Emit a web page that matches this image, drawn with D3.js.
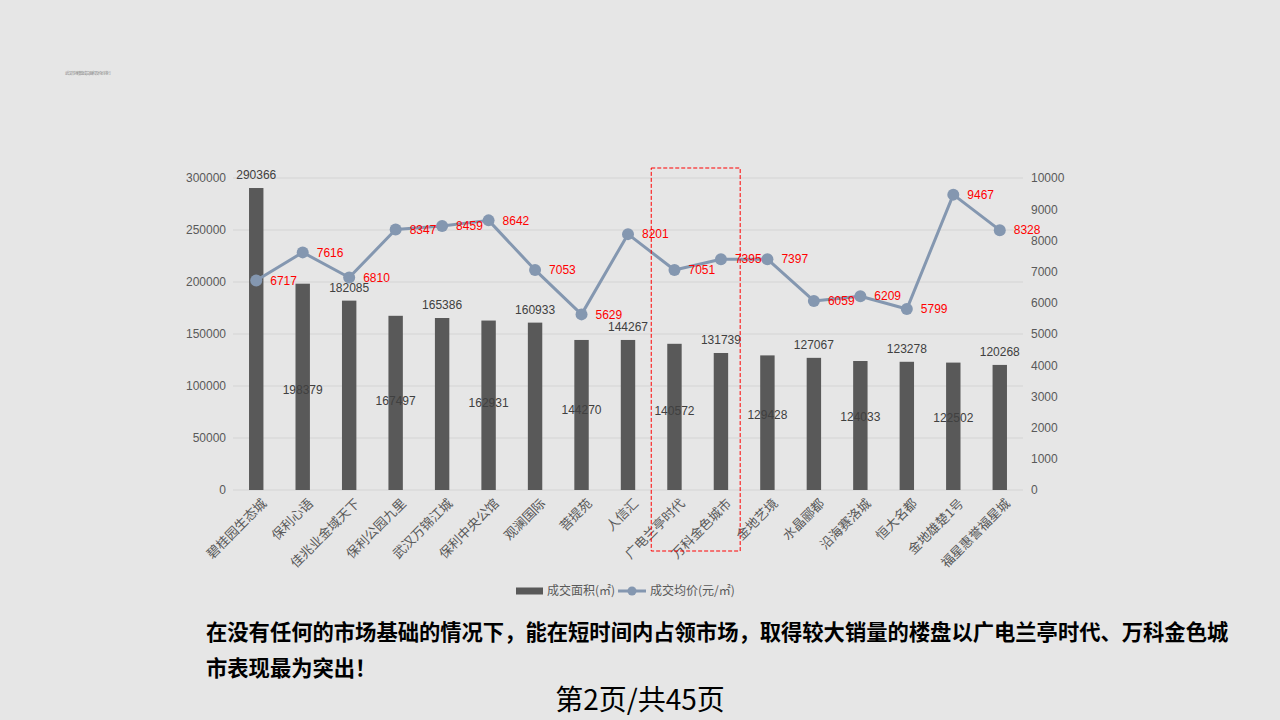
<!DOCTYPE html>
<html>
<head>
<meta charset="utf-8">
<script src="https://cdn.jsdelivr.net/npm/d3@7"></script>
<style>
  body { margin: 0; background: #e6e6e6; }
  svg { display: block; }
</style>
</head>
<body>
<div id="chart"></div>
<script>
const categories = ["碧桂园生态城", "保利心语", "佳兆业金域天下", "保利公园九里", "武汉万锦江城", "保利中央公馆",
  "观澜国际", "菩提苑", "人信汇", "广电兰亭时代", "万科金色城市", "金地艺境", "水晶郦都", "沿海赛洛城",
  "恒大名都", "金地雄楚1号", "福星惠誉福星城"];
const areaValues = [290366, 198379, 182085, 167497, 165386, 162931, 160933, 144270, 144267, 140572,
  131739, 129428, 127067, 124033, 123278, 122502, 120268];
const priceValues = [6717, 7616, 6810, 8347, 8459, 8642, 7053, 5629, 8201, 7051, 7395, 7397, 6059,
  6209, 5799, 9467, 8328];
const leftTicks = [0, 50000, 100000, 150000, 200000, 250000, 300000];
const rightTicks = [0, 1000, 2000, 3000, 4000, 5000, 6000, 7000, 8000, 9000, 10000];
const legendLabels = ["成交面积(㎡)", "成交均价(元/㎡)"];
const highlight = ["广电兰亭时代", "万科金色城市"];

const W = 1280, H = 720;
const plot = { left: 233, right: 1023, top: 178, bottom: 490 };
const font = "'Liberation Sans', Arial, 'Noto Sans CJK SC', sans-serif";
const cjk = "'Noto Sans CJK SC', sans-serif";
const barColor = "#595959", lineColor = "#8497b0", gray = "#595959";

const svg = d3.select("#chart").append("svg")
  .attr("width", W).attr("height", H)
  .style("font-family", font);

svg.append("rect").attr("width", W).attr("height", H).attr("fill", "#e6e6e6");

// tiny header text, top left
svg.append("text")
  .attr("x", 65).attr("y", 75)
  .attr("font-size", 4).attr("fill", "#8a8a8a")
  .attr("textLength", 46)
  .text("武汉市场楼盘成交面积及均价排行");

const x = d3.scaleBand()
  .domain(categories)
  .range([plot.left, plot.right])
  .paddingInner(0.69)
  .paddingOuter(0.345);

const yL = d3.scaleLinear().domain([0, 300000]).range([plot.bottom, plot.top]);
const yR = d3.scaleLinear().domain([0, 10000]).range([plot.bottom, plot.top]);

// grid
svg.append("g")
  .selectAll("line")
  .data(leftTicks)
  .join("line")
  .attr("x1", plot.left).attr("x2", plot.right)
  .attr("y1", d => yL(d)).attr("y2", d => yL(d))
  .attr("stroke", "#d4d4d4").attr("stroke-width", 1);

// left axis
const axL = svg.append("g")
  .attr("transform", `translate(${plot.left - 7},0)`)
  .call(d3.axisLeft(yL).tickValues(leftTicks).tickFormat(d3.format("d")).tickSize(0).tickPadding(0));
axL.select(".domain").remove();
axL.selectAll("text").attr("font-size", 12).attr("fill", gray).style("font-family", font);

// right axis
const axR = svg.append("g")
  .attr("transform", `translate(${plot.right + 8},0)`)
  .call(d3.axisRight(yR).tickValues(rightTicks).tickFormat(d3.format("d")).tickSize(0).tickPadding(0));
axR.select(".domain").remove();
axR.selectAll("text").attr("font-size", 12).attr("fill", gray).style("font-family", font);

// bars
const cx = d => x(d) + x.bandwidth() / 2;
svg.append("g")
  .selectAll("rect")
  .data(categories)
  .join("rect")
  .attr("x", d => x(d))
  .attr("width", x.bandwidth())
  .attr("y", (d, i) => yL(areaValues[i]))
  .attr("height", (d, i) => yL(0) - yL(areaValues[i]))
  .attr("fill", barColor);

// bar labels (excel style: alternate above / inside)
svg.append("g")
  .selectAll("text")
  .data(categories)
  .join("text")
  .attr("x", d => cx(d))
  .attr("y", (d, i) => i % 2 === 0
    ? yL(areaValues[i]) - 13
    : yL(areaValues[i] * 0.355) - 27)
  .attr("dy", "0.35em")
  .attr("text-anchor", "middle")
  .attr("font-size", 12)
  .attr("fill", "#404040")
  .text((d, i) => areaValues[i]);

// line
const line = d3.line()
  .x((d, i) => cx(categories[i]))
  .y(d => yR(d));

svg.append("path")
  .datum(priceValues)
  .attr("fill", "none")
  .attr("stroke", lineColor)
  .attr("stroke-width", 3)
  .attr("stroke-linejoin", "round")
  .attr("d", line);

svg.append("g")
  .selectAll("circle")
  .data(priceValues)
  .join("circle")
  .attr("cx", (d, i) => cx(categories[i]))
  .attr("cy", d => yR(d))
  .attr("r", 6)
  .attr("fill", lineColor);

svg.append("g")
  .selectAll("text")
  .data(priceValues)
  .join("text")
  .attr("x", (d, i) => cx(categories[i]) + 14)
  .attr("y", d => yR(d))
  .attr("dy", "0.35em")
  .attr("font-size", 12)
  .attr("fill", "#ff0000")
  .text(d => d);

// x labels
svg.append("g")
  .selectAll("text")
  .data(categories)
  .join("text")
  .attr("transform", d => `translate(${cx(d) + 8},${plot.bottom + 11}) rotate(-45)`)
  .attr("text-anchor", "end")
  .attr("dy", "0.35em")
  .attr("font-size", 13)
  .attr("fill", gray)
  .style("font-family", cjk)
  .text(d => d);

// highlight box
const hx0 = cx(highlight[0]) - x.step() / 2;
const hx1 = cx(highlight[1]) + x.step() / 2 - 4;
svg.append("rect")
  .attr("x", hx0).attr("y", plot.top - 10)
  .attr("width", hx1 - hx0).attr("height", 551 - (plot.top - 10))
  .attr("fill", "none")
  .attr("stroke", "#ff0000")
  .attr("stroke-width", 1)
  .attr("stroke-dasharray", "4,2");

// legend
const lg = svg.append("g").attr("transform", "translate(516,591)");
lg.append("rect").attr("x", 0).attr("y", -3.5).attr("width", 27).attr("height", 7).attr("fill", barColor);
lg.append("text").attr("x", 31).attr("dy", "0.35em").attr("font-size", 12).attr("fill", gray)
  .style("font-family", cjk).text(legendLabels[0]);
lg.append("line").attr("x1", 102).attr("x2", 130).attr("stroke", lineColor).attr("stroke-width", 3);
lg.append("circle").attr("cx", 116).attr("r", 4.5).attr("fill", lineColor);
lg.append("text").attr("x", 134).attr("dy", "0.35em").attr("font-size", 12).attr("fill", gray)
  .style("font-family", cjk).text(legendLabels[1]);

// commentary
const note = svg.append("g")
  .style("font-family", cjk)
  .attr("font-weight", "bold")
  .attr("font-size", 21.3)
  .attr("fill", "#000");
note.append("text").attr("x", 206).attr("y", 640)
  .text("在没有任何的市场基础的情况下，能在短时间内占领市场，取得较大销量的楼盘以广电兰亭时代、万科金色城");
note.append("text").attr("x", 206).attr("y", 676)
  .text("市表现最为突出！");

svg.append("text")
  .attr("x", 640).attr("y", 710)
  .attr("text-anchor", "middle")
  .attr("font-size", 28)
  .attr("fill", "#000")
  .style("font-family", cjk)
  .text("第2页/共45页");
</script>
</body>
</html>
